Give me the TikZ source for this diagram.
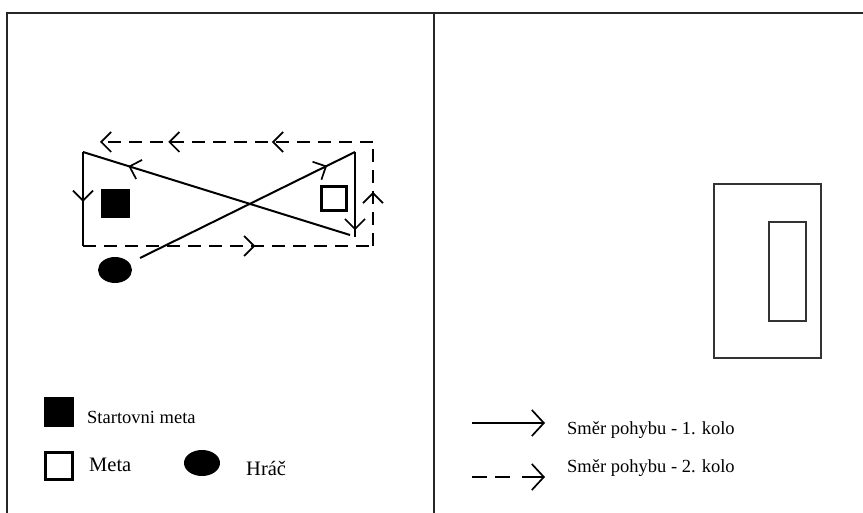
\documentclass[tikz,border=0pt]{standalone}
\usepackage{fontspec}
\setmainfont{Liberation Serif}
\usetikzlibrary{arrows.meta,decorations.markings}
\begin{document}
\begin{tikzpicture}[x=1pt,y=-1pt,
  frame/.style={line width=1.4pt,black!85},
  path1/.style={line width=2pt},
  path2/.style={line width=2pt,dash pattern=on 13pt off 8pt},
  chev/.tip={Straight Barb[length=10pt,width=20pt,line width=1.7pt]},
  midarrow/.style={postaction={decorate},decoration={markings,mark=at position #1 with {\arrow{chev}}}},
  txt/.style={anchor=base west,inner sep=0pt,font=\fontsize{18.5}{20}\selectfont},
  txtb/.style={anchor=base west,inner sep=0pt,font=\fontsize{20.5}{22}\selectfont},
  thin/.style={line width=1.2pt,black!80}]
\useasboundingbox (0,0) rectangle (863,513);
% frame
\coordinate (ftl) at (7,13);
\coordinate (ftr) at (863,13);
\coordinate (fbl) at (7,513);
\coordinate (fdt) at (434,13);
\coordinate (fdb) at (434,513);
\draw[frame] (fbl) -- (ftl) -- (ftr);
\draw[frame] (fdt) -- (fdb);
% main diagram corners
\coordinate (TL) at (83,152);
\coordinate (BL) at (83,246);
\coordinate (DR) at (350,235);
\coordinate (RT) at (355,152);
\coordinate (RB) at (355,237);
\coordinate (P) at (140,258);
\coordinate (DBR) at (375,246);
\coordinate (DRB) at (373,246);
\coordinate (DRT) at (373,142);
\coordinate (DTL) at (100,142);
% round 1 (solid)
\draw[path1,midarrow=0.87] (P) -- (RT);
\draw[path1,midarrow=0.92] (RT) -- (RB);
\draw[path1,midarrow=0.83] (DR) -- (TL);
\draw[path1,midarrow=0.53] (TL) -- (BL);
% round 2 (dashed)
\draw[path2,postaction={decorate},decoration={markings,mark=at position 0.59 with {\arrow{chev}}}] (BL) -- (DBR);
\draw[path2,postaction={decorate},decoration={markings,mark=at position 0.52 with {\arrow{chev}}}] (DRB) -- (DRT);
\draw[path2,postaction={decorate},decoration={markings,
   mark=at position 0.37 with {\arrow{chev}},
   mark=at position 0.75 with {\arrow{chev}},
   mark=at position 1 with {\arrow{chev}}}] (DRT) -- (DTL);
% markers in the diagram
\fill (101,189) rectangle (130,218);
\draw[line width=3pt] (321,187) rectangle (346,211);
\fill (115,270) ellipse [x radius=17, y radius=13];
% right side rectangles
\draw[thin] (714,184) rectangle (821,358);
\draw[thin] (769,222) rectangle (806,321);
% legend left
\fill (44,397) rectangle (74,427);
\node[txt] (t1) at (87,423) {Startovni meta};
\draw[line width=3pt] (45,452) rectangle (72,479);
\node[txtb] (t2) at (89,471) {Meta};
\fill (202,463) ellipse [x radius=18, y radius=13];
\node[txtb] (t3) at (246,475) {Hráč};
% legend right
\coordinate (a1s) at (472,423);
\coordinate (a1e) at (545,423);
\draw[line width=2pt,-{Straight Barb[length=12pt,width=26pt,line width=1.7pt]}] (a1s) -- (a1e);
\node[txt] (t4) at (567,434) {Směr pohybu - 1. kolo};
\coordinate (a2s) at (472,477);
\coordinate (a2e) at (545,477);
\draw[line width=2pt,dash pattern=on 15pt off 8pt on 15pt off 12pt on 40pt,-{Straight Barb[length=12pt,width=26pt,line width=1.7pt]}] (a2s) -- (a2e);
\node[txt] (t5) at (567,472) {Směr pohybu - 2. kolo};
\end{tikzpicture}
\end{document}
